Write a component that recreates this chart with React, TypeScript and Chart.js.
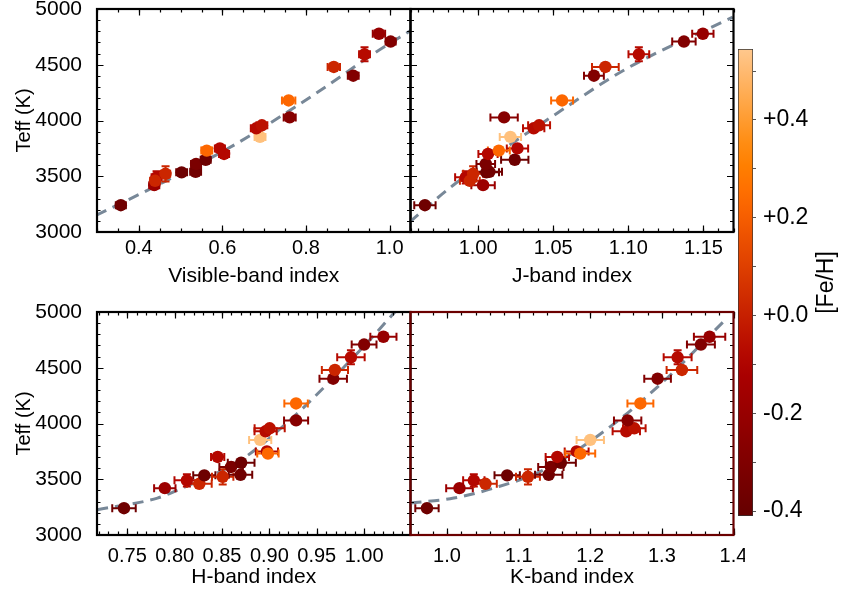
import React, { useEffect, useRef } from 'react';
import { Chart, registerables } from 'chart.js';

Chart.register(...registerables);

const FONT = '"Liberation Sans", Arial, Helvetica, sans-serif';
Chart.defaults.font.family = FONT;
Chart.defaults.color = '#000';

// ---------------- data (22 stars, same order in every array) ----------------
const TEFF = [3240, 3420, 3490, 3459, 3535, 3522, 3540, 3610, 3648, 3700, 3750, 3730, 3853, 3930, 3957, 4028, 4180, 4402, 4480, 4594, 4708, 4778];
const TEFF_ERR = [0, 0, 55, 0, 0, 68, 0, 0, 0, 0, 0, 0, 0, 0, 0, 0, 0, 0, 0, 62, 0, 0];
const FEH = [-0.37, -0.18, -0.08, 0.02, -0.38, 0.02, -0.36, -0.32, -0.38, -0.08, -0.08, 0.23, 0.52, -0.07, -0.05, -0.27, 0.23, -0.29, 0.02, -0.07, -0.29, -0.2];

const VIS_IDX = [0.357, 0.437, 0.4425, 0.439, 0.5025, 0.464, 0.536, 0.537, 0.56, 0.604, 0.594, 0.5625, 0.69, 0.681, 0.6945, 0.761, 0.7585, 0.913, 0.8665, 0.94, 1.0025, 0.9745];
const VIS_ERR = [0.012, 0.012, 0.012, 0.012, 0.013, 0.011, 0.013, 0.012, 0.012, 0.012, 0.012, 0.013, 0.013, 0.013, 0.013, 0.0144, 0.016, 0.013, 0.0148, 0.013, 0.012, 0.0148];

const J_IDX = [0.9646, 1.0033, 0.9918, 0.9945, 1.0055, 0.9967, 1.0075, 1.0051, 1.0244, 1.0066, 1.0262, 1.0138, 1.0215, 1.037, 1.0406, 1.0173, 1.0559, 1.0771, 1.0847, 1.107, 1.137, 1.1496];
const J_ERR = [0.0071, 0.0078, 0.0071, 0.0066, 0.0084, 0.0066, 0.0084, 0.0062, 0.0091, 0.0064, 0.0071, 0.0073, 0.0071, 0.0071, 0.0073, 0.0091, 0.0073, 0.0066, 0.0089, 0.0069, 0.0078, 0.0071];

const H_IDX = [0.7465, 0.7896, 0.8129, 0.826, 0.8313, 0.8507, 0.8695, 0.8596, 0.8702, 0.8454, 0.8974, 0.8985, 0.8903, 0.896, 0.9003, 0.9282, 0.9282, 0.9674, 0.9692, 0.9861, 1.0, 1.0204];
const H_ERR = [0.0124, 0.0113, 0.0131, 0.0131, 0.0117, 0.0113, 0.0124, 0.0124, 0.0141, 0.007, 0.0117, 0.0113, 0.0117, 0.0117, 0.0159, 0.0127, 0.0124, 0.0145, 0.0138, 0.0145, 0.0131, 0.0138];

const K_IDX = [0.972, 1.0174, 1.0374, 1.0537, 1.084, 1.113, 1.142, 1.145, 1.159, 1.154, 1.181, 1.186, 1.2, 1.2503, 1.2615, 1.2522, 1.27, 1.294, 1.328, 1.322, 1.3545, 1.3666];
const K_ERR = [0.0163, 0.0186, 0.0149, 0.0158, 0.0177, 0.0167, 0.0191, 0.0177, 0.0209, 0.0163, 0.0167, 0.0209, 0.0191, 0.0191, 0.0158, 0.0191, 0.0181, 0.0186, 0.0214, 0.0195, 0.0195, 0.0219];

// dashed calibration curves
const VIS_FIT_X = [0.2985, 0.4264, 0.6265, 0.8224, 0.9664, 1.0503];
const VIS_FIT_T = [3150, 3385, 3777, 4240, 4610, 4807];
const J_FIT_X = [0.9546, 0.9834, 1.0521, 1.0987, 1.1695];
const J_FIT_T = [3091, 3419, 4061, 4464, 4927];
const H_FIT_X = [0.7182, 0.7818, 0.7995, 0.8701, 0.9162, 0.9444, 1.001, 1.0328];
const H_FIT_T = [3226, 3331, 3390, 3674, 3988, 4212, 4704, 5003];
const K_FIT_X = [0.949, 1.0095, 1.065, 1.135, 1.228, 1.302, 1.386];
const K_FIT_T = [3286, 3331, 3420, 3584, 3972, 4376, 4913];

const TEFF_MIN = 3000;
const TEFF_MAX = 5000;
const FEH_MIN = -0.41;
const FEH_MAX = 0.545;

// ---------------- colour map (IDL "Red Temperature"-like) ----------------
function ct3(i: number): [number, number, number] {
  const r = Math.min(255, Math.round((i * 255) / 176));
  const g = i < 120 ? 0 : Math.min(255, Math.round(((i - 120) * 255) / 135));
  const b = i < 190 ? 0 : Math.min(255, Math.round(((i - 190) * 255) / 65));
  return [r, g, b];
}
function fracColor(t: number) {
  const tt = Math.max(0, Math.min(1, t));
  const [r, g, b] = ct3(70 + tt * 156);
  return `rgb(${r},${g},${b})`;
}
function fehColor(f: number) {
  return fracColor((f - FEH_MIN) / (FEH_MAX - FEH_MIN));
}
const COLORS = FEH.map(fehColor);

// ---------------- plugins ----------------
function makeFramePlugin(cfg: any) {
  return {
    id: 'frame',
    afterDatasetsDraw(chart: any) {
      const { ctx, chartArea: a, scales } = chart;
      const xs = scales.x;
      const ys = scales.y;
      ctx.save();
      ctx.strokeStyle = '#000';
      ctx.lineWidth = 1.2;
      const marks = (scale: any, step: number, len: number, vertical: boolean) => {
        const k0 = Math.ceil(scale.min / step - 1e-6);
        const k1 = Math.floor(scale.max / step + 1e-6);
        ctx.beginPath();
        for (let k = k0; k <= k1; k++) {
          const p = Math.round(scale.getPixelForValue(k * step)) + 0.5;
          if (vertical) {
            ctx.moveTo(p, a.bottom);
            ctx.lineTo(p, a.bottom - len);
            ctx.moveTo(p, a.top);
            ctx.lineTo(p, a.top + len);
          } else {
            ctx.moveTo(a.left, p);
            ctx.lineTo(a.left + len, p);
            ctx.moveTo(a.right, p);
            ctx.lineTo(a.right - len, p);
          }
        }
        ctx.stroke();
      };
      marks(xs, cfg.xMinor, 3.5, true);
      marks(xs, cfg.xMajor, 6.5, true);
      marks(ys, 100, 3.5, false);
      marks(ys, 500, 6.5, false);
      ctx.strokeStyle = cfg.color;
      ctx.lineWidth = 2.2;
      ctx.strokeRect(a.left, a.top, a.right - a.left, a.bottom - a.top);
      ctx.restore();
    },
  };
}

function makeErrorBarPlugin(xv: number[], xe: number[]) {
  return {
    id: 'errbars',
    beforeDatasetDraw(chart: any, args: any) {
      if (args.index !== 0) return;
      const { ctx, chartArea: a, scales } = chart;
      const x = scales.x;
      const y = scales.y;
      ctx.save();
      ctx.beginPath();
      ctx.rect(a.left, a.top, a.right - a.left, a.bottom - a.top);
      ctx.clip();
      ctx.lineWidth = 2;
      const cap = 4;
      for (let i = 0; i < xv.length; i++) {
        ctx.strokeStyle = COLORS[i];
        const py = y.getPixelForValue(TEFF[i]);
        const px = x.getPixelForValue(xv[i]);
        const xl = x.getPixelForValue(xv[i] - xe[i]);
        const xr = x.getPixelForValue(xv[i] + xe[i]);
        ctx.beginPath();
        ctx.moveTo(xl, py);
        ctx.lineTo(xr, py);
        ctx.moveTo(xl, py - cap);
        ctx.lineTo(xl, py + cap);
        ctx.moveTo(xr, py - cap);
        ctx.lineTo(xr, py + cap);
        if (TEFF_ERR[i] > 0) {
          const yt = y.getPixelForValue(TEFF[i] + TEFF_ERR[i]);
          const yb = y.getPixelForValue(TEFF[i] - TEFF_ERR[i]);
          ctx.moveTo(px, yt);
          ctx.lineTo(px, yb);
          ctx.moveTo(px - cap, yt);
          ctx.lineTo(px + cap, yt);
          ctx.moveTo(px - cap, yb);
          ctx.lineTo(px + cap, yb);
        }
        ctx.stroke();
      }
      ctx.restore();
    },
  };
}

// ---------------- panels ----------------
type PanelCfg = {
  left: number; top: number; width: number; height: number;
  xv: number[]; xe: number[]; fitX: number[]; fitT: number[];
  xMin: number; xMax: number; xMajor: number; xMinor: number; dec: number;
  title: string; showY: boolean; frame: string;
  pad: { top: number; right: number }; yWidth: number; xHeight: number;
  tickPad: number; titlePad: number;
};

const PANELS: PanelCfg[] = [
  {
    left: 0, top: 0, width: 420, height: 295,
    xv: VIS_IDX, xe: VIS_ERR, fitX: VIS_FIT_X, fitT: VIS_FIT_T,
    xMin: 0.3, xMax: 1.05, xMajor: 0.2, xMinor: 0.05, dec: 1,
    title: 'Visible-band index', showY: true, frame: '#000',
    pad: { top: 9, right: 9.5 }, yWidth: 97, xHeight: 63, tickPad: -4, titlePad: 6,
  },
  {
    left: 400, top: 0, width: 345, height: 295,
    xv: J_IDX, xe: J_ERR, fitX: J_FIT_X, fitT: J_FIT_T,
    xMin: 0.955, xMax: 1.17, xMajor: 0.05, xMinor: 0.01, dec: 2,
    title: 'J-band index', showY: false, frame: '#000',
    pad: { top: 9, right: 11.5 }, yWidth: 10.5, xHeight: 63, tickPad: -4, titlePad: 6,
  },
  {
    left: 0, top: 296, width: 420, height: 295,
    xv: H_IDX, xe: H_ERR, fitX: H_FIT_X, fitT: H_FIT_T,
    xMin: 0.718, xMax: 1.049, xMajor: 0.05, xMinor: 0.01, dec: 2,
    title: 'H-band index', showY: true, frame: '#000',
    pad: { top: 16, right: 9.5 }, yWidth: 97, xHeight: 56, tickPad: 1, titlePad: 1,
  },
  {
    left: 400, top: 296, width: 345, height: 295,
    xv: K_IDX, xe: K_ERR, fitX: K_FIT_X, fitT: K_FIT_T,
    xMin: 0.949, xMax: 1.4, xMajor: 0.1, xMinor: 0.02, dec: 1,
    title: 'K-band index', showY: false, frame: '#6b0000',
    pad: { top: 16, right: 11.5 }, yWidth: 10.5, xHeight: 56, tickPad: 1, titlePad: 1,
  },
];

function zeroPad(s: any) {
  s.paddingLeft = 0;
  s.paddingRight = 0;
  s.paddingTop = 0;
  s.paddingBottom = 0;
}

function panelConfig(p: PanelCfg): any {
  return {
    type: 'scatter',
    data: {
      datasets: [
        {
          type: 'scatter',
          data: p.xv.map((x, i) => ({ x, y: TEFF[i] })),
          backgroundColor: COLORS,
          borderColor: COLORS,
          borderWidth: 0,
          pointRadius: 6.2,
          pointHoverRadius: 6.2,
        },
        {
          type: 'line',
          data: p.fitX.map((x, i) => ({ x, y: p.fitT[i] })),
          borderColor: '#788898',
          borderWidth: 3,
          borderDash: [11, 7],
          pointRadius: 0,
          fill: false,
          showLine: true,
          cubicInterpolationMode: 'monotone',
          clip: 0,
        },
      ],
    },
    options: {
      animation: false,
      responsive: false,
      devicePixelRatio: 1,
      events: [],
      layout: { autoPadding: false, padding: { top: p.pad.top, right: p.pad.right, left: 0, bottom: 0 } },
      plugins: { legend: { display: false }, tooltip: { enabled: false } },
      scales: {
        x: {
          type: 'linear',
          min: p.xMin,
          max: p.xMax,
          grid: { display: false },
          border: { display: false },
          ticks: {
            stepSize: p.xMajor,
            includeBounds: false,
            autoSkip: false,
            maxRotation: 0,
            padding: p.tickPad,
            font: { size: 20, family: FONT },
            color: '#000',
            callback: (v: any) => Number(v).toFixed(p.dec),
          },
          title: {
            display: true,
            text: p.title,
            font: { size: 21, family: FONT },
            color: '#000',
            padding: { top: 0, bottom: p.titlePad },
          },
          afterFit: (s: any) => {
            s.height = p.xHeight;
            zeroPad(s);
          },
        },
        y: {
          type: 'linear',
          min: TEFF_MIN,
          max: TEFF_MAX,
          grid: { display: false },
          border: { display: false },
          ticks: {
            display: p.showY,
            stepSize: 500,
            includeBounds: false,
            autoSkip: false,
            padding: 7,
            font: { size: 21, family: FONT },
            color: '#000',
            callback: (v: any) => String(Math.round(Number(v))),
          },
          title: {
            display: p.showY,
            text: 'Teff (K)',
            font: { size: 20, family: FONT },
            color: '#000',
            padding: { top: 12, bottom: 0 },
          },
          afterFit: (s: any) => {
            s.width = p.yWidth;
            zeroPad(s);
          },
        },
      },
    },
    plugins: [makeErrorBarPlugin(p.xv, p.xe), makeFramePlugin({ color: p.frame, xMajor: p.xMajor, xMinor: p.xMinor })],
  };
}

// ---------------- colour bar ----------------
const FEH_BAR = [[FEH_MIN, FEH_MAX]];

function colorbarConfig(): any {
  const titlePlugin = {
    id: 'fehTitle',
    afterDraw(chart: any) {
      const { ctx, chartArea: a } = chart;
      ctx.save();
      ctx.font = `23px ${FONT}`;
      ctx.fillStyle = '#000';
      ctx.translate(97, (a.top + a.bottom) / 2);
      ctx.rotate(-Math.PI / 2);
      ctx.textAlign = 'center';
      ctx.textBaseline = 'middle';
      ctx.fillText('[Fe/H]', 0, 0);
      ctx.restore();
    },
  };
  return {
    type: 'bar',
    data: {
      labels: [''],
      datasets: [
        {
          data: FEH_BAR,
          backgroundColor: (c: any) => {
            const a = c.chart.chartArea;
            if (!a) return '#a00000';
            const g = c.chart.ctx.createLinearGradient(0, a.bottom, 0, a.top);
            for (let s = 0; s <= 20; s++) g.addColorStop(s / 20, fracColor(s / 20));
            return g;
          },
          borderColor: '#333',
          borderWidth: 1,
          borderSkipped: false,
          barPercentage: 1,
          categoryPercentage: 1,
        },
      ],
    },
    options: {
      animation: false,
      responsive: false,
      devicePixelRatio: 1,
      events: [],
      layout: { autoPadding: false, padding: { left: 8, top: 49, bottom: 75, right: 0 } },
      plugins: { legend: { display: false }, tooltip: { enabled: false } },
      scales: {
        x: { display: false },
        y: {
          position: 'right',
          min: FEH_MIN,
          max: FEH_MAX,
          grid: { display: true, drawOnChartArea: false, drawTicks: true, tickLength: 3, color: '#555' },
          border: { display: false },
          ticks: {
            stepSize: 0.1,
            includeBounds: false,
            autoSkip: false,
            padding: 7,
            font: { size: 23, family: FONT },
            color: '#000',
            callback: (v: any) => {
              const r = Math.round(Number(v) * 10);
              if (r % 2 !== 0 || Math.abs(r) > 4) return '';
              return r >= 0 ? '+' + (r / 10).toFixed(1) : (r / 10).toFixed(1);
            },
          },
          afterFit: (s: any) => {
            s.width = 88;
            zeroPad(s);
          },
        },
      },
    },
    plugins: [titlePlugin],
  };
}

function ChartCanvas({ left, top, width, height, make }: { left: number; top: number; width: number; height: number; make: () => any }) {
  const ref = useRef<HTMLCanvasElement | null>(null);
  useEffect(() => {
    if (!ref.current) return;
    const chart = new Chart(ref.current, make());
    return () => chart.destroy();
  }, []);
  return (
    <canvas
      ref={ref}
      width={width}
      height={height}
      style={{ position: 'absolute', left, top, width, height }}
    />
  );
}

export default function App() {
  return (
    <div style={{ position: 'fixed', left: 0, top: 0, width: 841, height: 591, background: '#fff', overflow: 'hidden' }}>
      {PANELS.map((p, i) => (
        <ChartCanvas key={i} left={p.left} top={p.top} width={p.width} height={p.height} make={() => panelConfig(p)} />
      ))}
      <ChartCanvas left={730} top={0} width={111} height={591} make={colorbarConfig} />
    </div>
  );
}
